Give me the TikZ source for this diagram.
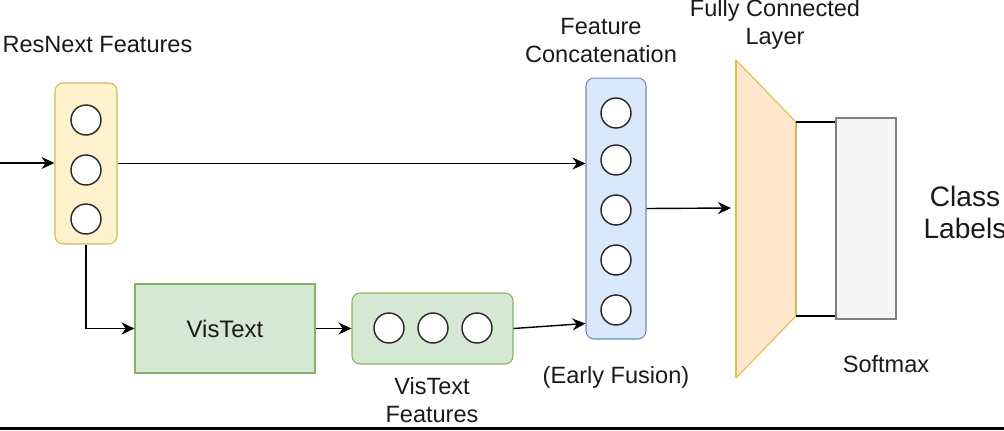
\documentclass[tikz,border=0pt]{standalone}
\usepackage{fontspec}
\setmainfont{Liberation Sans}
\usepackage{tikz}
\usetikzlibrary{arrows.meta,calc}

\definecolor{rnfill}{HTML}{FFF2CC}
\definecolor{rndraw}{HTML}{D6B656}
\definecolor{vtfill}{HTML}{D5E8D4}
\definecolor{vtdraw}{HTML}{82B366}
\definecolor{ccfill}{HTML}{DAE8FC}
\definecolor{ccdraw}{HTML}{6C8EBF}
\definecolor{fcfill}{HTML}{FFE6CC}
\definecolor{fcdraw}{HTML}{D79B00}
\definecolor{smfill}{HTML}{F5F5F5}
\definecolor{smdraw}{HTML}{808080}
\definecolor{txt}{HTML}{1A1A1A}

\begin{document}
\begin{tikzpicture}[x=0.02cm, y=-0.02cm, >={Stealth[length=2.6mm,width=2.4mm]},
  label/.style={align=center, text=txt, inner sep=0pt, font=\fontsize{13.4}{15.9}\selectfont},
  vec/.style={draw, rounded corners=0.16cm, line width=0.6pt, inner sep=0pt},
  unit/.style={draw=black!85, circle, fill=white, minimum size=0.6cm, inner sep=0pt, line width=0.8pt},
  conn/.style={->, line width=0.8pt}
]
  \useasboundingbox (0,0) rectangle (1004,430);

  % feature vectors
  \node[vec, fill=rnfill, draw=rndraw, minimum width=1.24cm, minimum height=3.22cm] (rn) at (86,163.5) {};
  \foreach \y [count=\i] in {120,170,219}
    \node[unit] (rn\i) at (86,\y) {};

  \node[vec, fill=ccfill, draw=ccdraw, minimum width=1.2cm, minimum height=5.22cm] (cc) at (616,208.5) {};
  \foreach \y [count=\i] in {113,160,210,260,310}
    \node[unit] (cc\i) at (616,\y) {};

  \node[draw=vtdraw, fill=vtfill, line width=0.6pt, minimum width=3.6cm, minimum height=1.78cm,
        label, font=\fontsize{13.6}{16}\selectfont] (vt) at (225,328.5) {VisText};

  \node[vec, fill=vtfill, draw=vtdraw, minimum width=3.22cm, minimum height=1.42cm] (vf) at (432.5,328.5) {};
  \foreach \x [count=\i] in {389,433,477}
    \node[unit] (vf\i) at (\x,328) {};

  % fully connected layer and softmax
  \coordinate (fcnw) at (736,60);
  \coordinate (fcne) at (796,122);
  \coordinate (fcse) at (796,316);
  \coordinate (fcsw) at (736,378);
  \fill[fcfill] (fcnw) -- (fcne) -- (fcse) -- (fcsw) -- cycle;
  \draw[fcdraw!70, line width=0.6pt] (fcnw) -- (fcne) (fcse) -- (fcsw);
  \draw[fcdraw!70, line width=1pt] (fcnw) -- (fcsw);
  \draw[rndraw, line width=1pt] (fcne) -- (fcse);
  \coordinate (fcin) at (731,208);

  \node[draw=smdraw, fill=smfill, line width=1pt, minimum width=1.2cm, minimum height=4.02cm, inner sep=0pt] (sm) at (866,218.5) {};

  % connectors
  \coordinate (in) at (0,163);
  \draw[conn] (in) -- (in -| rn.west);
  \draw[conn] (rn.east) -- (rn.east -| cc.west);
  \draw[conn] (rn.south) |- (vt.west);
  \draw[conn] (vt) -- (vf);
  \draw[conn] (vf.east) -- ($(cc.south west)+(0,-16)$);
  \draw[conn] (cc.east) -- (fcin);
  \draw[line width=0.8pt] (fcne) -- (fcne -| sm.west);
  \draw[line width=0.8pt] (fcse) -- (fcse -| sm.west);

  % labels
  \node[label] (rnlab) at (97.5,45) {ResNext Features};
  \node[label] (cclab) at (601,40.5) {Feature\\Concatenation};
  \node[label] (eflab) at (616,377) {(Early Fusion)};
  \node[label] (vflab) at (432,400) {VisText\\Features};
  \node[label] (fclab) at (775,24) {Fully Connected\\Layer};
  \node[label] (smlab) at (886,364) {Softmax};
  \node[label, font=\fontsize{16}{18.2}\selectfont] (cllab) at (965,212) {Class\\Labels};

  % frame edge
  \fill[black] (0,427) rectangle (1004,430);
\end{tikzpicture}
\end{document}
